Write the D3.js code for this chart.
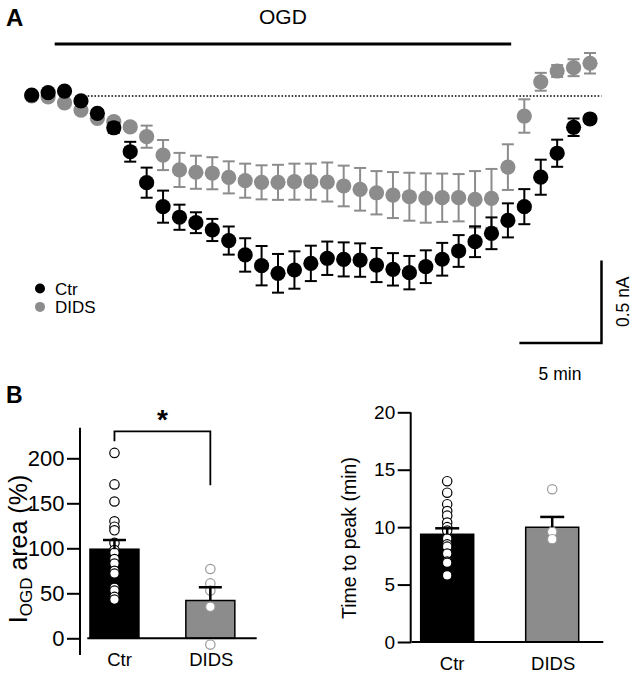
<!DOCTYPE html>
<html><head><meta charset="utf-8">
<script src="https://cdn.jsdelivr.net/npm/d3@7"></script>
<style>
body{margin:0;background:#fff}
text{font-family:"Liberation Sans",Arial,Helvetica,sans-serif;fill:#000}
</style>
</head><body>
<svg id="c" width="638" height="678"></svg>
<script>
// ---------- Panel A data (current, nA; time, min) ----------
const timeMin = [0,1,2,3,4,5,6,7,8,9,10,11,12,13,14,15,16,17,18,19,20,21,22,23,24,25,26,27,28,29,30,31,32,33,34];
const ctrMean = [0.006,0.020,0.030,-0.030,-0.105,-0.192,-0.337,-0.524,-0.669,-0.733,-0.766,-0.810,-0.874,-0.961,-1.026,-1.072,-1.052,-1.012,-0.981,-0.988,-0.992,-1.022,-1.048,-1.068,-1.032,-0.987,-0.937,-0.881,-0.830,-0.752,-0.669,-0.491,-0.346,-0.189,-0.139];
const ctrSem  = [0.010,0.010,0.010,0.015,0.020,0.030,0.060,0.091,0.097,0.076,0.063,0.067,0.085,0.101,0.119,0.117,0.113,0.107,0.101,0.103,0.101,0.103,0.098,0.101,0.099,0.099,0.096,0.093,0.096,0.103,0.106,0.106,0.082,0.053,0.024];
const didsMean = [0.000,-0.006,-0.041,-0.085,-0.135,-0.155,-0.187,-0.246,-0.357,-0.447,-0.461,-0.467,-0.492,-0.512,-0.522,-0.522,-0.518,-0.518,-0.520,-0.544,-0.564,-0.585,-0.599,-0.609,-0.617,-0.615,-0.615,-0.625,-0.619,-0.430,-0.121,0.086,0.151,0.171,0.198];
const didsSem  = [0.005,0.005,0.005,0.008,0.010,0.012,0.024,0.067,0.091,0.103,0.100,0.097,0.097,0.103,0.103,0.106,0.109,0.109,0.118,0.123,0.129,0.131,0.139,0.145,0.149,0.146,0.143,0.171,0.178,0.138,0.101,0.054,0.036,0.051,0.062];
const ogdWindow = [1.4, 29.2];
const seriesNames = ["Ctr","DIDS"];

// ---------- Panel B data ----------
const groups = ["Ctr","DIDS"];
const areaMean = [99, 42];
const areaSem = [10.2, 14.7];
const areaCtrPts = [206,171,152,130,124,120,106,98,95,88,83,75,72,56,53,46,43];
const areaDidsPts = [77,61,53,35,-7];
const areaTicks = [0,50,100,150,200];
const peakMean = [9.38, 9.99];
const peakSem = [0.52, 0.9];
const peakCtrPts = [14,13,12,11.4,11,10.4,10,9.7,9,8.5,8.3,7.7,7,6.9,5.8];
const peakDidsPts = [13.3,9.6,8.95];
const peakTicks = [0,5,10,15,20];

const BLACK = "#000", GRAY = "#8c8c8c";
const svg = d3.select("#c");

// ================= Panel A =================
const x = d3.scaleLinear().domain([0,34]).range([31.7,590]);
const y = d3.scaleLinear().domain([0,-1]).range([96,261.4]);

svg.append("text").attr("x",6).attr("y",26).attr("font-size",24).attr("font-weight","bold").text("A");
svg.append("text").attr("x",(x(ogdWindow[0])+x(ogdWindow[1]))/2).attr("y",24).attr("text-anchor","middle")
  .attr("font-size",21).text("OGD");
svg.append("line").attr("x1",x(ogdWindow[0])).attr("x2",x(ogdWindow[1])).attr("y1",44).attr("y2",44)
  .attr("stroke",BLACK).attr("stroke-width",3);

// dotted baseline
svg.append("line").attr("x1",x(3.2)).attr("x2",x(34.7)).attr("y1",y(0)).attr("y2",y(0))
  .attr("stroke",BLACK).attr("stroke-width",1.6).attr("stroke-dasharray","1.6,1.8");

function drawSeries(mean, sem, color){
  const g = svg.append("g");
  const pts = timeMin.map((t,i)=>({t, m:mean[i], s:sem[i]}));
  const eb = g.selectAll("g.eb").data(pts).join("g").attr("stroke",color).attr("stroke-width",2);
  eb.append("line").attr("x1",d=>x(d.t)).attr("x2",d=>x(d.t)).attr("y1",d=>y(d.m-d.s)).attr("y2",d=>y(d.m+d.s));
  eb.append("line").attr("x1",d=>x(d.t)-6).attr("x2",d=>x(d.t)+6).attr("y1",d=>y(d.m-d.s)).attr("y2",d=>y(d.m-d.s));
  eb.append("line").attr("x1",d=>x(d.t)-6).attr("x2",d=>x(d.t)+6).attr("y1",d=>y(d.m+d.s)).attr("y2",d=>y(d.m+d.s));
  g.selectAll("circle").data(pts).join("circle").attr("cx",d=>x(d.t)).attr("cy",d=>y(d.m)).attr("r",7.6).attr("fill",color);
}
drawSeries(didsMean, didsSem, GRAY);
drawSeries(ctrMean, ctrSem, BLACK);

// legend
const leg = svg.append("g");
seriesNames.forEach((n,i)=>{
  leg.append("circle").attr("cx",40).attr("cy",288.5+i*18.4).attr("r",5).attr("fill",i?GRAY:BLACK);
  leg.append("text").attr("x",55).attr("y",294.5+i*18.4).attr("font-size",17).text(n);
});

// scale bar
const sbX = x(34.7), sbY = y(-1.494);
svg.append("path").attr("d",`M${x(34.7-5)},${sbY}H${sbX}V${y(-1.494+0.5)}`)
  .attr("fill","none").attr("stroke",BLACK).attr("stroke-width",2.5);
svg.append("text").attr("transform",`translate(629,${(sbY+y(-0.994))/2}) rotate(-90)`).attr("text-anchor","middle")
  .attr("font-size",17.5).text("0.5 nA");
svg.append("text").attr("x",560).attr("y",380).attr("text-anchor","middle").attr("font-size",17.5).text("5 min");

// ================= Panel B =================
svg.append("text").attr("x",6).attr("y",403).attr("font-size",23).attr("font-weight","bold").text("B");

function barPanel(opts){
  const {xr, yr, dom, axisY, axisLineY, xLine, pad, mean, sem, ctrPts, didsPts, ticks, tickFont, capW} = opts;
  const yS = d3.scaleLinear().domain([0, dom]).range(yr);
  const xS = d3.scaleBand().domain(groups).range(xr).paddingInner(pad[0]).paddingOuter(pad[1]);
  const g = svg.append("g");
  // y axis
  const ax = g.append("g").attr("transform",`translate(${axisY},0)`)
    .call(d3.axisLeft(yS).tickValues(ticks).tickSize(13).tickPadding(2.5).tickSizeOuter(0));
  ax.select(".domain").remove();
  ax.selectAll(".tick line").attr("stroke",BLACK).attr("stroke-width",2);
  ax.selectAll(".tick text").attr("font-size",tickFont).attr("font-family",'"Liberation Sans",Arial,sans-serif').attr("fill",BLACK);
  g.append("line").attr("x1",axisY).attr("x2",axisY).attr("y1",yS(axisLineY[0])).attr("y2",yS(axisLineY[1]))
    .attr("stroke",BLACK).attr("stroke-width",2);
  // bars
  g.selectAll("rect").data(groups).join("rect")
    .attr("x",d=>xS(d)).attr("width",xS.bandwidth())
    .attr("y",(d,i)=>yS(mean[i])).attr("height",(d,i)=>yS(0)-yS(mean[i]))
    .attr("fill",(d,i)=>i?GRAY:BLACK).attr("stroke",BLACK).attr("stroke-width",1.5);
  // x axis line
  g.append("line").attr("x1",xLine[0]).attr("x2",xLine[1]).attr("y1",yS(0)).attr("y2",yS(0))
    .attr("stroke",BLACK).attr("stroke-width",2);
  // points
  const cx = d=>xS(d)+xS.bandwidth()/2;
  g.selectAll("circle.c").data(ctrPts).join("circle").attr("class","c")
    .attr("cx",cx("Ctr")).attr("cy",v=>yS(v)).attr("r",4.7).attr("fill","#fff").attr("stroke",BLACK).attr("stroke-width",1.2);
  g.selectAll("circle.d").data(didsPts).join("circle").attr("class","d")
    .attr("cx",cx("DIDS")).attr("cy",v=>yS(v)).attr("r",4.7).attr("fill","#fff").attr("stroke","#9a9a9a").attr("stroke-width",1.2);
  // error bars
  groups.forEach((gn,i)=>{
    g.append("line").attr("x1",cx(gn)).attr("x2",cx(gn)).attr("y1",yS(mean[i])).attr("y2",yS(mean[i]+sem[i]))
      .attr("stroke",BLACK).attr("stroke-width",2.5);
    g.append("line").attr("x1",cx(gn)-capW/2).attr("x2",cx(gn)+capW/2).attr("y1",yS(mean[i]+sem[i])).attr("y2",yS(mean[i]+sem[i]))
      .attr("stroke",BLACK).attr("stroke-width",2.5);
    g.append("text").attr("x",cx(gn)+(i?1:5)).attr("y",yS(0)+28).attr("text-anchor","middle").attr("font-size",18.5).text(gn);
  });
  return {xS, yS, cx};
}

// left: I_OGD area
const L = barPanel({xr:[80,244.8], yr:[638.3,458.3], dom:200, axisY:80, axisLineY:[-18.5,234], xLine:[87.3,256.7],
  pad:[0.489,0.104], mean:areaMean, sem:areaSem, ctrPts:areaCtrPts, didsPts:areaDidsPts, ticks:areaTicks, tickFont:22, capW:23});
const yl = svg.append("text").attr("transform","translate(26.5,549) rotate(-90)").attr("text-anchor","middle").attr("font-size",25);
yl.append("tspan").text("I");
yl.append("tspan").attr("font-size",17).attr("dy",5).text("OGD");
yl.append("tspan").attr("dy",-5).text(" area (%)");
// significance bracket
svg.append("path").attr("d",`M${L.cx("Ctr")},${L.yS(219)}V${L.yS(230)}H${L.cx("DIDS")}V${L.yS(170)}`)
  .attr("fill","none").attr("stroke",BLACK).attr("stroke-width",1.8);
svg.append("text").attr("x",(L.cx("Ctr")+L.cx("DIDS"))/2).attr("y",429).attr("text-anchor","middle")
  .attr("font-size",28).attr("font-weight","bold").text("*");

// right: Time to peak
const R = barPanel({xr:[410.7,588.7], yr:[642,412.3], dom:20, axisY:410.7, axisLineY:[-0.1,20], xLine:[411.7,603.3],
  pad:[0.495,0.095], mean:peakMean, sem:peakSem, ctrPts:peakCtrPts, didsPts:peakDidsPts, ticks:peakTicks, tickFont:19, capW:24});
svg.append("text").attr("transform","translate(356,538) rotate(-90)").attr("text-anchor","middle")
  .attr("font-size",19.5).text("Time to peak (min)");
</script>
</body></html>
